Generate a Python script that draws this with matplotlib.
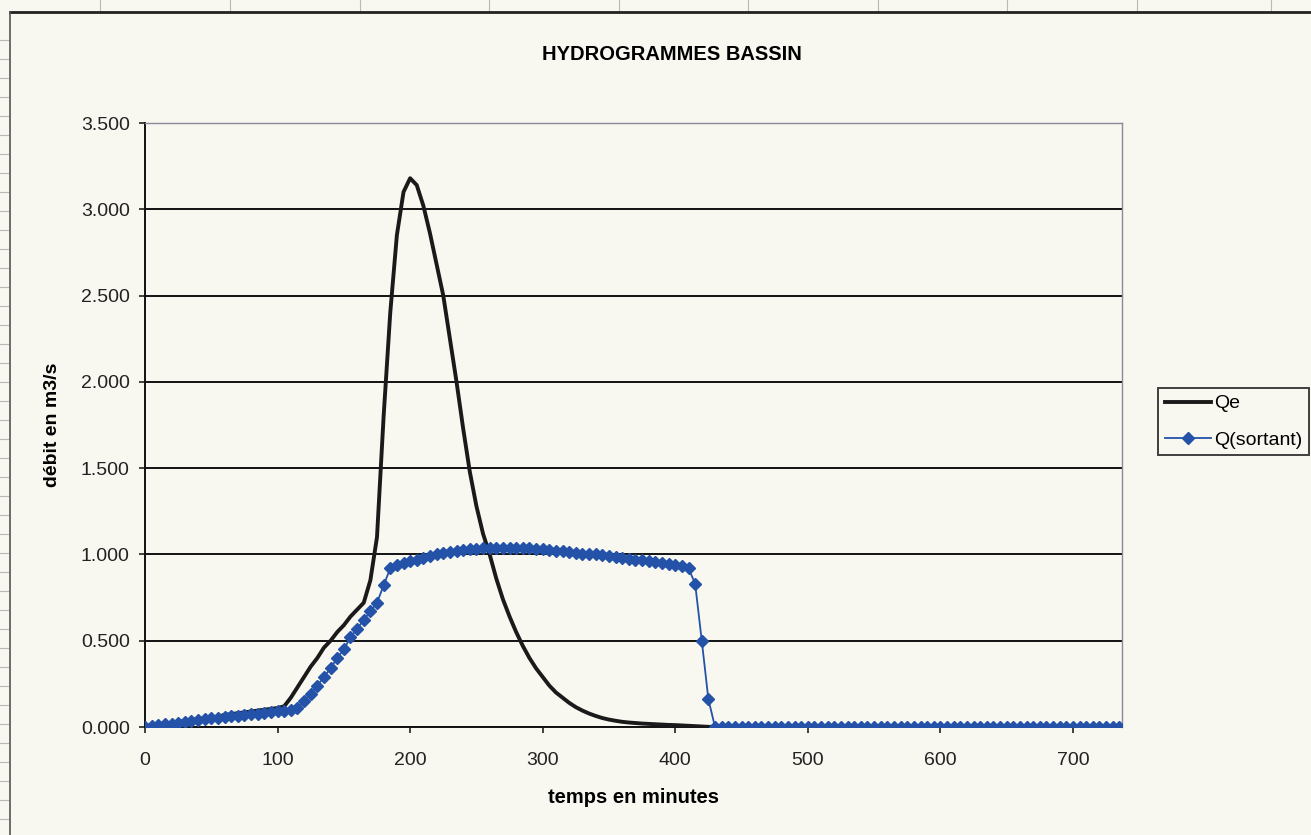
import numpy as np
import matplotlib
matplotlib.use("Agg")
import matplotlib.pyplot as plt
from matplotlib.ticker import FuncFormatter, MultipleLocator

# time steps (minutes)
temps = np.arange(0, 740, 5)

# inflow hydrograph Qe (m3/s), read every 5 minutes
qe_head = [0.00, 0.01, 0.015, 0.02, 0.025, 0.03, 0.035, 0.04, 0.045, 0.05,
           0.055, 0.06, 0.07, 0.075, 0.08, 0.085, 0.09, 0.095, 0.10, 0.105,
           0.11, 0.12, 0.17, 0.23, 0.29, 0.35, 0.40, 0.46, 0.50, 0.55,
           0.59, 0.64, 0.68, 0.72, 0.85, 1.10, 1.80, 2.40, 2.85, 3.10,
           3.18, 3.14, 3.02, 2.86, 2.68, 2.50, 2.25, 2.00, 1.73, 1.48,
           1.28, 1.12, 1.00, 0.86, 0.74, 0.64, 0.55, 0.47, 0.40, 0.34,
           0.29, 0.24, 0.20, 0.17, 0.14, 0.115, 0.095, 0.078, 0.064, 0.052,
           0.043, 0.036, 0.030, 0.026, 0.023, 0.020, 0.018, 0.016, 0.014, 0.012,
           0.011, 0.009, 0.007, 0.005, 0.003, 0.001]

# outflow Q(sortant) (m3/s), read every 5 minutes
qs_head = [0.00, 0.005, 0.01, 0.015, 0.02, 0.025, 0.03, 0.035, 0.04, 0.045,
           0.05, 0.055, 0.058, 0.062, 0.066, 0.07, 0.074, 0.078, 0.082, 0.086,
           0.09, 0.093, 0.097, 0.11, 0.15, 0.19, 0.24, 0.29, 0.34, 0.40,
           0.45, 0.52, 0.57, 0.62, 0.67, 0.72, 0.82, 0.92, 0.94, 0.95,
           0.96, 0.97, 0.98, 0.99, 1.00, 1.01, 1.015, 1.02, 1.025, 1.03,
           1.03, 1.035, 1.035, 1.04, 1.04, 1.04, 1.04, 1.035, 1.035, 1.03,
           1.03, 1.025, 1.02, 1.02, 1.015, 1.01, 1.005, 1.00, 1.00, 0.995,
           0.99, 0.985, 0.98, 0.975, 0.97, 0.965, 0.96, 0.955, 0.95, 0.945,
           0.94, 0.935, 0.92, 0.83, 0.50, 0.16]

qe = np.array(qe_head + [0.0] * (len(temps) - len(qe_head)))
qs = np.array(qs_head + [0.0] * (len(temps) - len(qs_head)))

paper = "#f8f7f0"
blue = "#2352a8"
font = ["Liberation Sans", "DejaVu Sans"]

fig = plt.figure(figsize=(13.11, 8.35), dpi=100, facecolor=paper)

# spreadsheet cell lines around the chart object
for xp in [100, 230, 360, 489, 619, 748, 878, 1007, 1137, 1271]:
    fig.add_artist(plt.Line2D([xp / 1311, xp / 1311], [1 - 12 / 835, 1.0],
                              color="#b8b8b8", lw=0.8))
for yp in range(40, 835, 19):
    fig.add_artist(plt.Line2D([0.0, 8 / 1311], [1 - yp / 835, 1 - yp / 835],
                              color="#b8b8b8", lw=0.8))
# chart area border
fig.add_artist(plt.Line2D([10 / 1311, 1.0], [1 - 12 / 835, 1 - 12 / 835],
                          color="#222222", lw=2))
fig.add_artist(plt.Line2D([10 / 1311, 10 / 1311], [0.0, 1 - 12 / 835],
                          color="#555555", lw=1.2))

ax = fig.add_axes([145 / 1311, 1 - 727 / 835, 977 / 1311, 604 / 835])
ax.set_facecolor("none")

ax.plot(temps, qe, color="#1a1a1a", lw=2.8, label="Qe", zorder=3)
ax.plot(temps, qs, color=blue, lw=1.3, marker="D", markersize=6.5,
        markeredgecolor=blue, label="Q(sortant)", zorder=4)

ax.set_xlim(0, 737)
ax.set_ylim(0, 3.5)
ax.xaxis.set_major_locator(MultipleLocator(100))
ax.yaxis.set_major_locator(MultipleLocator(0.5))
ax.yaxis.set_major_formatter(FuncFormatter(lambda v, p: "{:.3f}".format(v)))
ax.grid(axis="y", color="#111111", lw=1.4)
ax.set_axisbelow(True)

for s in ["top", "right"]:
    ax.spines[s].set_color("#8a8a9a")
    ax.spines[s].set_linewidth(1.0)
for s in ["left", "bottom"]:
    ax.spines[s].set_color("#111111")
    ax.spines[s].set_linewidth(1.4)

ax.tick_params(axis="both", direction="out", length=4, width=1.2,
               labelsize=14, colors="#222222")
ax.tick_params(axis="y", pad=7)
ax.tick_params(axis="x", pad=14)
for lab in ax.get_xticklabels() + ax.get_yticklabels():
    lab.set_family(font)

ax.set_xlabel("temps en minutes", fontsize=14.5, fontweight="bold",
              family=font, labelpad=14)
ax.set_ylabel("débit en m3/s", fontsize=14, fontweight="bold",
              family=font, labelpad=14)

fig.text(672 / 1311, 1 - 55 / 835, "HYDROGRAMMES BASSIN", ha="center",
         va="center", fontsize=14.5, fontweight="bold", family=font)

leg = ax.legend(loc="upper left", bbox_to_anchor=(1158 / 1311, 1 - 388 / 835),
                bbox_transform=fig.transFigure, frameon=True, fancybox=False,
                edgecolor="#111111", facecolor="none",
                prop={"family": font, "size": 14},
                handlelength=2.4, borderpad=0.35, labelspacing=0.95,
                handletextpad=0.15, borderaxespad=0)
leg.get_frame().set_linewidth(1.4)
for h in leg.legend_handles:
    h.set_markersize(6)

fig.savefig("out.png", dpi=100, facecolor=paper)
